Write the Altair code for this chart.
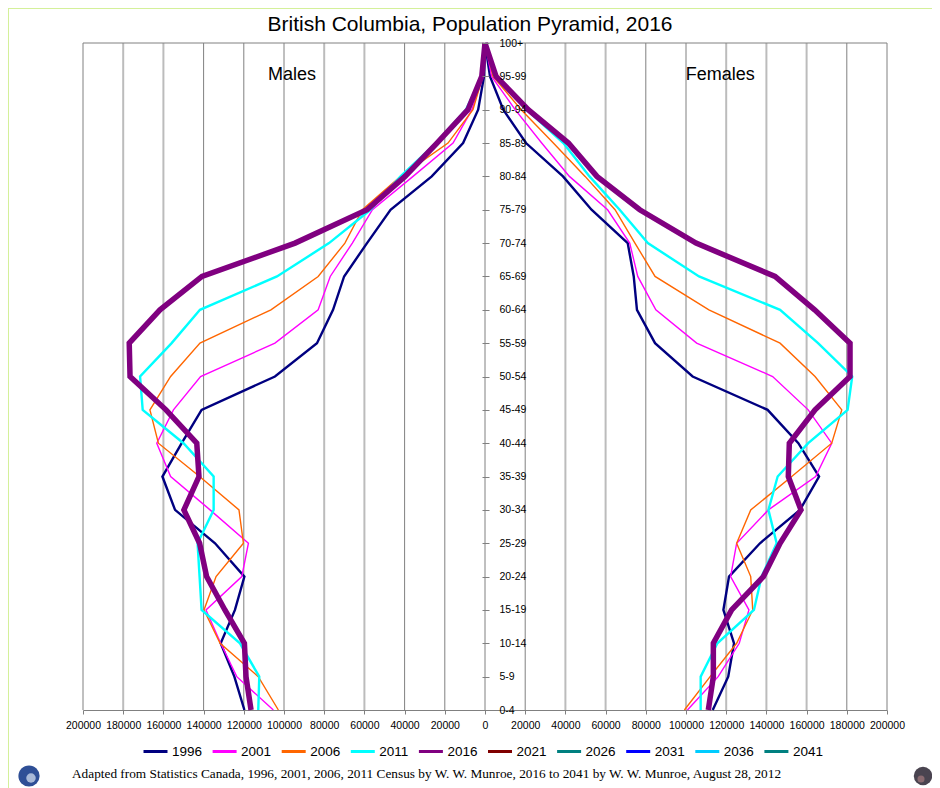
import altair as alt
import pandas as pd

ages = ["0-4","5-9","10-14","15-19","20-24","25-29","30-34","35-39","40-44","45-49","50-54",
        "55-59","60-64","65-69","70-74","75-79","80-84","85-89","90-94","95-99","100+"]
years = ["1996","2001","2006","2011","2016","2021","2026","2031","2036","2041"]
colors = ["#000080","#FF00FF","#FF6600","#00FFFF","#800080","#800000","#008080","#0000FF","#00CCFF","#008080"]
widths = [2.4,1.4,1.4,2.4,5.5]

male_1996 = [119700,124700,131500,124400,119700,134300,154200,160500,150900,141000,104500,83600,75600,70100,58700,47000,26500,10900,3400,500,0]
male_2001 = [105300,123500,131500,138800,121000,117700,136800,156400,163300,155000,141500,104500,83000,77000,66000,56000,35800,15900,6500,1000,0]
male_2006 = [102800,112800,131800,139800,133800,120200,122400,142000,162500,166700,156400,141800,106500,83000,69700,61000,42000,18400,6000,1100,0]
male_2011 = [112800,112300,121900,141000,142000,143000,135000,135000,150000,170300,171600,155900,141800,103500,77600,57000,42000,24400,9500,1500,0]
male_2016 = [116400,118900,119700,129400,138500,142000,149800,142300,143400,158700,176600,177000,161700,140800,94500,58700,39800,23900,8500,1600,0]
female_1996 = [113300,121000,123900,118600,121400,136800,156700,166200,155900,140600,103300,84600,75600,74000,71000,53000,38800,20400,9100,2500,0]
female_2001 = [100700,116000,126500,131300,122200,125200,141000,164500,172500,160800,143100,105300,85000,76000,72000,61000,42000,28200,15000,3300,0]
female_2006 = [99200,112000,125200,133200,132200,125200,132200,152600,172500,177500,164200,146800,111400,84600,74600,64700,49800,34000,18000,4000,0]
female_2011 = [107300,107300,115600,133800,137600,145100,141000,145600,160800,180400,182700,165700,146800,106500,81000,67000,52000,39000,20700,5000,0]
female_2016 = [111100,113600,113600,122700,138500,146800,157200,150900,151400,164200,181600,181600,164000,144300,105000,77000,55700,41500,21500,5500,0]

male = dict(zip(years, [male_1996,male_2001,male_2006,male_2011,male_2016]))
female = dict(zip(years, [female_1996,female_2001,female_2006,female_2011,female_2016]))

rows = []
for y in years[:5]:
    for i, (a, m, f) in enumerate(zip(ages, male[y], female[y])):
        rows.append({"year": y, "age": a, "side": "M", "v": -m, "o": i})
        rows.append({"year": y, "age": a, "side": "F", "v": f, "o": i})
df = pd.DataFrame(rows)

ticks = list(range(-200000, 200001, 20000))
light = [-180000,-160000,-80000,-60000,40000,60000,120000,140000,160000]
dark = [t for t in ticks if t not in light and t != 0]

xs = alt.Scale(domain=[-200000, 200000], nice=False, zero=False)
ys = alt.Scale(type="point", domain=ages[::-1], padding=0)
XQ = alt.X("v:Q", scale=xs, title=None)

grid_light = alt.Chart(pd.DataFrame({"v": light})).mark_rule(color="#bcbcbc", strokeWidth=2).encode(XQ)
grid_dark = alt.Chart(pd.DataFrame({"v": dark})).mark_rule(color="#808080", strokeWidth=1).encode(XQ)
center = alt.Chart(pd.DataFrame({"v": [0]})).mark_rule(color="#808080", strokeWidth=1).encode(XQ)
top = alt.Chart(pd.DataFrame({"v": [-200000], "v2": [200000], "age": ["100+"]})).mark_rule(color="#808080", strokeWidth=1).encode(
    XQ, x2="v2:Q", y=alt.Y("age:N", scale=ys, title=None))

x_enc = alt.X("v:Q", scale=xs, title=None,
              axis=alt.Axis(values=ticks, labelExpr="format(abs(datum.value),'d')", grid=False,
                            domainColor="#808080", tickColor="#808080", tickSize=4, labelPadding=6,
                            labelFont="Liberation Sans", labelFontSize=10.5, labelColor="#000000",
                            labelFlush=False, labelOverlap=False))
y_enc = alt.Y("age:N", scale=ys, title=None, sort=ages[::-1],
              axis=alt.Axis(orient="right", offset=-405, domain=False, grid=False, tickColor="#808080", tickSize=7,
                            labelPadding=10, labelFont="Liberation Sans", labelFontSize=10.5,
                            labelColor="#000000", labelOverlap=False, zindex=1))
color_enc = alt.Color("year:N", scale=alt.Scale(domain=years, range=colors),
                      legend=alt.Legend(orient="none", legendX=59, legendY=695, direction="horizontal",
                                        columns=10, title=None, symbolType="stroke", symbolSize=576,
                                        symbolStrokeWidth=3, labelFont="Liberation Sans", labelFontSize=13.5,
                                        labelColor="#000000", labelOffset=3, columnPadding=3.1))

line_layers = [
    alt.Chart(df[df["year"] == y]).mark_line(interpolate="linear", strokeJoin="miter", strokeWidth=w).encode(
        x=x_enc, y=y_enc, color=color_enc, detail="side:N", order="o:Q")
    for y, w in zip(years[:5], widths)
]

title = alt.Chart(pd.DataFrame({"t": ["British Columbia, Population Pyramid, 2016"]})).mark_text(
    font="Liberation Sans", fontSize=21, color="#000000", align="center", baseline="middle"
).encode(text="t:N", x=alt.value(387), y=alt.value(-18))
side = alt.Chart(pd.DataFrame({"t": ["Males", "Females"], "v": [-96000, 117000]})).mark_text(
    font="Liberation Sans", fontSize=18, color="#000000", align="center", baseline="middle"
).encode(text="t:N", x=XQ, y=alt.value(32))
credit = alt.Chart(pd.DataFrame({"t": ["Adapted from Statistics Canada, 1996, 2001, 2006, 2011 Census by W. W. Munroe, 2016 to 2041 by W. W. Munroe,  August 28, 2012"]})).mark_text(
    font="Liberation Serif", fontSize=13.3, color="#000000", align="left", baseline="middle"
).encode(text="t:N", x=alt.value(-11), y=alt.value(731))

def dot(color, size, px, py):
    return alt.Chart(pd.DataFrame({"k": [0]})).mark_circle(color=color, size=size, opacity=1).encode(
        x=alt.value(px), y=alt.value(py))

# small decorative globes beside the credit line
earth = dot("#2f4f96", 450, -54, 733)
earth2 = dot("#a9b9d8", 90, -52, 735)
mosaic = dot("#4a4450", 340, 840, 733)
mosaic2 = dot("#8a6a70", 50, 838, 736)

edge_v = alt.Chart(pd.DataFrame({"k": [0]})).mark_rule(color="#d4f09a", strokeWidth=1).encode(
    x=alt.value(-74.5), y=alt.value(-34.5), y2=alt.value(745))
edge_h = alt.Chart(pd.DataFrame({"k": [0]})).mark_rule(color="#d4f09a", strokeWidth=1).encode(
    y=alt.value(-34.5), x=alt.value(-75), x2=alt.value(849))

chart = alt.layer(
    edge_v, edge_h, grid_light, grid_dark, center, top, *line_layers, title, side, credit, earth, earth2, mosaic, mosaic2
).properties(
    width=804, height=667, padding={"left": 75, "top": 35, "right": 45, "bottom": 78},
    autosize=alt.AutoSizeParams(type="none")
).configure_view(stroke=None)

chart.save("out.html", embed_options={"renderer": "svg", "actions": False})
